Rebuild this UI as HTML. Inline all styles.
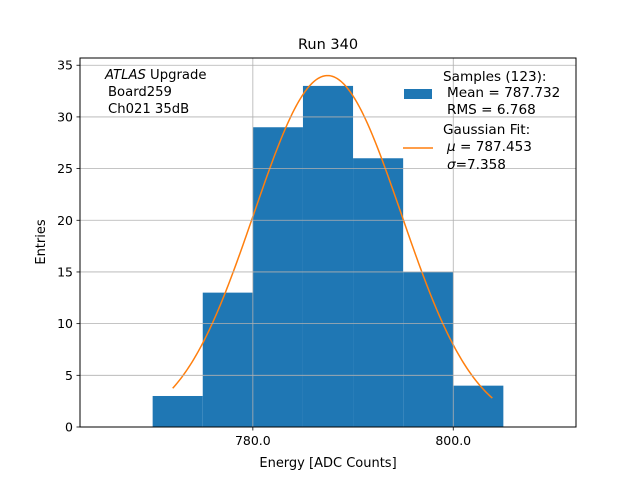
<!DOCTYPE html>
<html><head><meta charset="utf-8"><style>
body{margin:0;background:#fff}
svg{display:block;font-family:"DejaVu Sans","Liberation Sans",sans-serif}
</style></head><body>
<svg id="chart" width="640" height="480">
<rect x="0" y="0" width="640" height="480" fill="#fff"/>
<g id="bars"></g>
<g id="curve"></g>
<g id="grid"></g>
<rect x="80" y="58" width="496" height="369" fill="none" stroke="#000" stroke-width="1"/>
<g id="ticks" font-size="12.5"></g>
<text x="328" y="49" text-anchor="middle" font-size="14.5">Run 340</text>
<text x="328" y="467" text-anchor="middle" font-size="13">Energy [ADC Counts]</text>
<text transform="translate(45,242) rotate(-90)" text-anchor="middle" font-size="13">Entries</text>
<g font-size="13.2">
<text x="105" y="79"><tspan font-style="italic">ATLAS</tspan> Upgrade</text>
<text x="108" y="96">Board259</text>
<text x="108" y="113">Ch021 35dB</text>
</g>
<g font-size="13.6">
<rect x="404" y="89" width="28" height="10" fill="#1f77b4"/>
<text x="443" y="81">Samples (123):</text>
<text x="447" y="97">Mean = 787.732</text>
<text x="447" y="114">RMS = 6.768</text>
<line x1="403" y1="148" x2="433" y2="148" stroke="#ff7f0e" stroke-width="1.5"/>
<text x="443" y="134">Gaussian Fit:</text>
<text x="447" y="151"><tspan font-style="italic">μ</tspan> = 787.453</text>
<text x="447" y="169"><tspan font-style="italic">σ</tspan>=7.358</text>
</g>
</svg>
<script>
const binEdgesLow = [770,775,780,785,790,795,800];
const binCounts = [3,13,29,33,26,15,4];
const binWidth = 5;
const fitMu = 787.453;
const fitSigma = 7.358;
const fitAmp = 34.0;
const fitRange = [772.0, 803.9];
const xTicks = [780, 800];
const xTickLabels = ["780.0","800.0"];
const yTicks = [0,5,10,15,20,25,30,35];

const X0=80,X1=576,Y0=427,Y1=58;
const xmin=762.75,xmax=812.25,ymin=0,ymax=35.7;
const sx=v=>X0+(v-xmin)/(xmax-xmin)*(X1-X0);
const sy=v=>Y0-(v-ymin)/(ymax-ymin)*(Y0-Y1);
const NS="http://www.w3.org/2000/svg";
function mk(tag,attrs,parent){const e=document.createElementNS(NS,tag);for(const k in attrs)e.setAttribute(k,attrs[k]);parent.appendChild(e);return e;}

const bars=document.getElementById('bars');
binEdgesLow.forEach((lo,i)=>{
  const r=mk('rect',{x:sx(lo),y:sy(binCounts[i]),width:sx(lo+binWidth)-sx(lo),height:sy(0)-sy(binCounts[i]),fill:'#1f77b4'},bars);
  
  
});

const curve=document.getElementById('curve');
let pts=[];
for(let i=0;i<=200;i++){const x=fitRange[0]+(fitRange[1]-fitRange[0])*i/200;const y=fitAmp*Math.exp(-0.5*((x-fitMu)/fitSigma)**2);pts.push(sx(x).toFixed(2)+','+sy(y).toFixed(2));}
const pl=mk('polyline',{points:pts.join(' '),fill:'none',stroke:'#ff7f0e','stroke-width':1.5},curve);



const grid=document.getElementById('grid');
const ticks=document.getElementById('ticks');
yTicks.forEach(v=>{
  if(v>0){const g=mk('line',{x1:X0,x2:X1,y1:sy(v),y2:sy(v),stroke:'#b0b0b0','stroke-width':0.8},grid);
  
  }
  mk('line',{x1:X0-3.5,x2:X0,y1:sy(v),y2:sy(v),stroke:'#000','stroke-width':0.8},ticks);
  const t=mk('text',{x:X0-7,y:sy(v)+4.5,'text-anchor':'end'},ticks);t.textContent=v;
  
  
});
xTicks.forEach((v,i)=>{
  const g=mk('line',{x1:sx(v),x2:sx(v),y1:Y1,y2:Y0,stroke:'#b0b0b0','stroke-width':0.8},grid);
  
  
  mk('line',{x1:sx(v),x2:sx(v),y1:Y0,y2:Y0+3.5,stroke:'#000','stroke-width':0.8},ticks);
  const t=mk('text',{x:sx(v),y:Y0+18,'text-anchor':'middle'},ticks);t.textContent=xTickLabels[i];
  
  
});
</script>
</body></html>
